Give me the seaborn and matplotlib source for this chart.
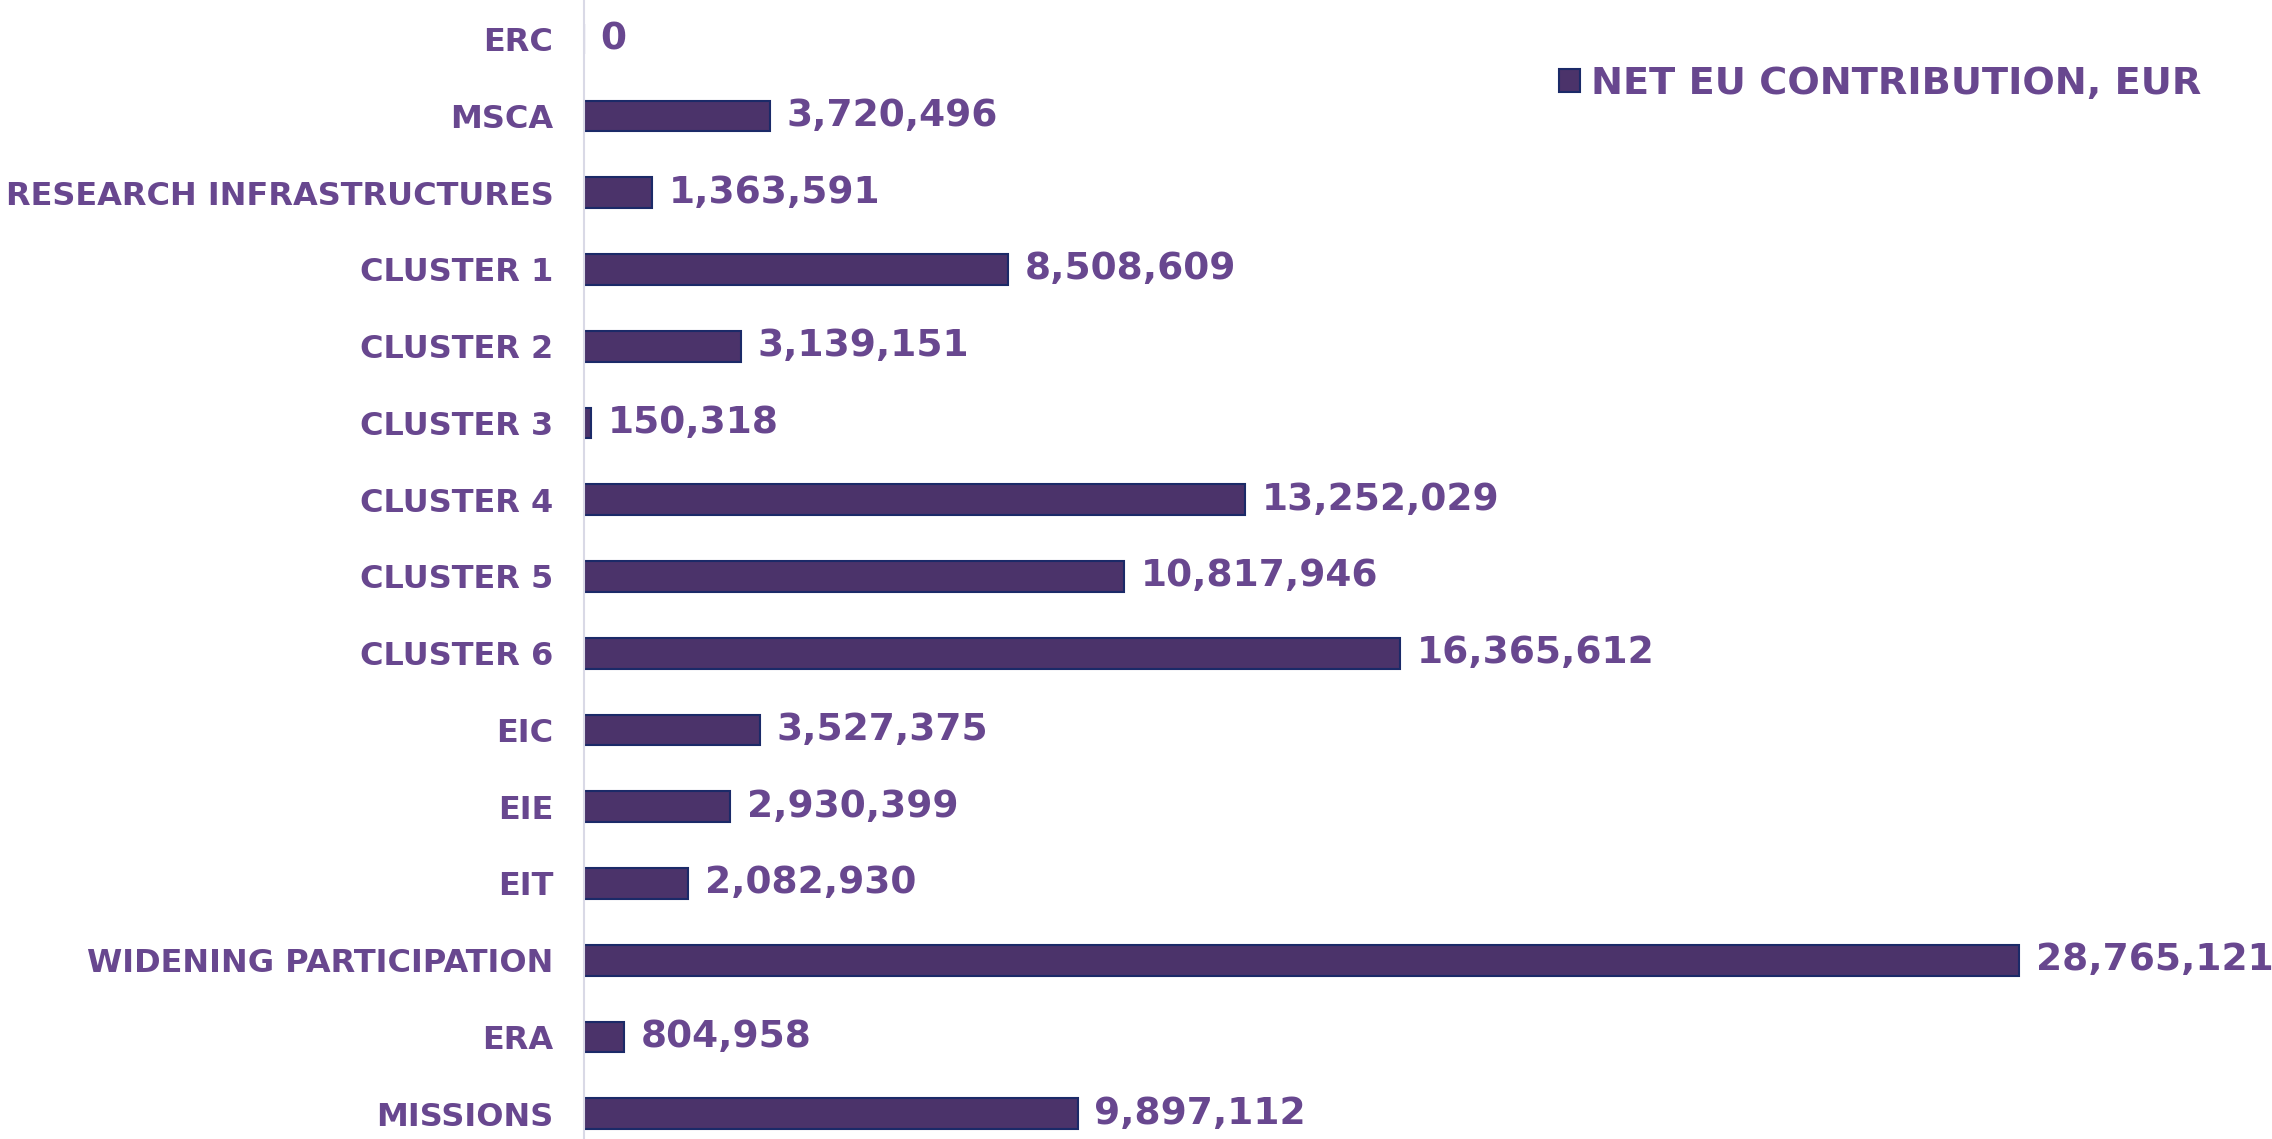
import matplotlib
matplotlib.use("Agg")
import matplotlib.pyplot as plt
import seaborn as sns
import pandas as pd

categories = ["ERC", "MSCA", "RESEARCH INFRASTRUCTURES", "CLUSTER 1", "CLUSTER 2",
              "CLUSTER 3", "CLUSTER 4", "CLUSTER 5", "CLUSTER 6", "EIC", "EIE", "EIT",
              "WIDENING PARTICIPATION", "ERA", "MISSIONS"]
net_contribution = [0, 3720496, 1363591, 8508609, 3139151, 150318, 13252029, 10817946,
                    16365612, 3527375, 2930399, 2082930, 28765121, 804958, 9897112]
series_name = "NET EU CONTRIBUTION, EUR"

text_color = "#68478F"
bar_color = "#4B336A"
edge_color = "#1B2A68"

sns.set_style("white")
plt.rcParams["font.family"] = ["DejaVu Sans"]
plt.rcParams["font.weight"] = "bold"

df = pd.DataFrame({"category": categories, "value": net_contribution})

fig = plt.figure(figsize=(22.72, 11.39), dpi=100)
ax = fig.add_axes([584 / 2272, 0, 1 - 584 / 2272, 1])

sns.barplot(data=df, x="value", y="category", orient="h", color=bar_color,
            edgecolor=edge_color, linewidth=1.5, width=0.4, saturation=1,
            label=series_name, ax=ax)

# value labels at the end of each bar
ax.bar_label(ax.containers[0], labels=[f"{v:,}" for v in net_contribution],
             padding=12, color=text_color, fontsize=27, fontweight="bold")

ax.set_xlim(0, 28765121 * (2272 - 584) / 1435)
ax.set_ylim(14.33, -0.51)
ax.set_xlabel("")
ax.set_ylabel("")
ax.set_xticks([])
ax.set_yticks(range(len(categories)))
ax.set_yticklabels(categories, fontsize=23, fontweight="bold", color=text_color)
ax.tick_params(axis="y", length=0, pad=22)

for side in ["top", "right", "bottom"]:
    ax.spines[side].set_visible(False)
ax.spines["left"].set_color("#D9D9E6")
ax.spines["left"].set_linewidth(1.5)

leg = ax.legend(loc="center left", bbox_to_anchor=(1559 / 2272, 1 - 84 / 1139),
                bbox_transform=fig.transFigure, frameon=False, fontsize=27.5,
                handlelength=0.55, handleheight=0.55, handletextpad=0.3,
                borderpad=0, borderaxespad=0)
for t in leg.get_texts():
    t.set_color(text_color)
    t.set_fontweight("bold")

fig.savefig("out.png", dpi=100)
